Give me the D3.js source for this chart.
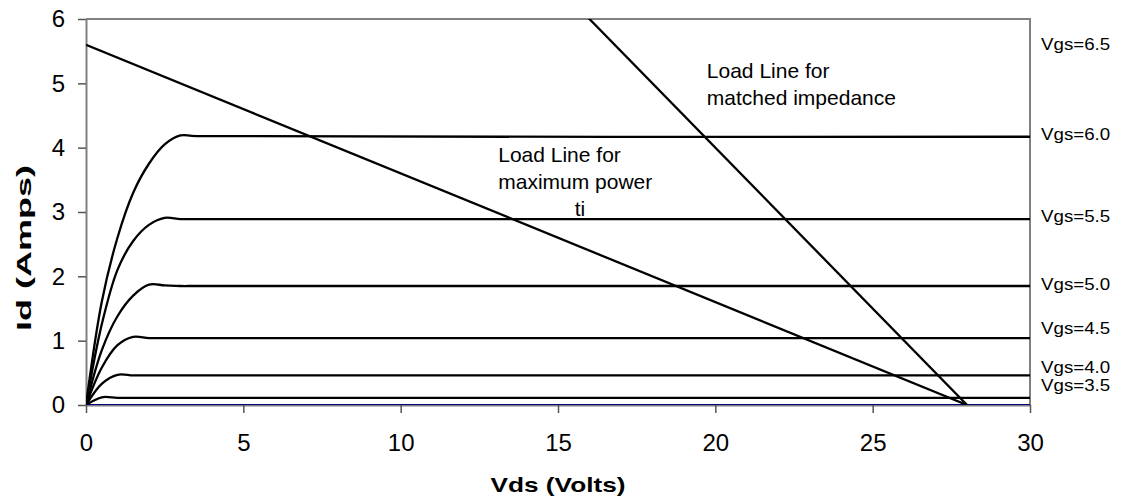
<!DOCTYPE html>
<html><head><meta charset="utf-8">
<script src="https://cdn.jsdelivr.net/npm/d3@7"></script>
<style>
body{margin:0;background:#fff}
svg{display:block;background:#fff}
text{font-family:"Liberation Sans",Arial,sans-serif;fill:#000}
</style>
</head><body>
<svg id="chart" width="1122" height="504"></svg>
<script>
// ---- data ----
const vds = [0, 0.5, 1, 1.5, 2, 2.5, 3, 3.5, 30];
const id30 = [0, 0, 0, 0, 0, 0, 0, 0, 0];
const id35 = [0, 0.12, 0.11, 0.11, 0.11, 0.11, 0.11, 0.11, 0.11];
const id40 = [0, 0.33, 0.47, 0.46, 0.46, 0.46, 0.46, 0.46, 0.46];
const id45 = [0, 0.58, 0.93, 1.06, 1.04, 1.04, 1.04, 1.04, 1.04];
const id50 = [0, 0.85, 1.38, 1.70, 1.87, 1.86, 1.85, 1.85, 1.85];
const id55 = [0, 1.25, 2.10, 2.55, 2.80, 2.91, 2.89, 2.89, 2.89];
const id60 = [0, 1.60, 2.60, 3.30, 3.75, 4.05, 4.19, 4.18, 4.17];

const loadMaxV = [0, 28];
const loadMaxI = [5.6, 0];
const loadMatchV = [0, 28];
const loadMatchI = [14, 0];

const xTicks = [0, 5, 10, 15, 20, 25, 30];
const yTicks = [0, 1, 2, 3, 4, 5, 6];

const vgsLabels = ["Vgs=6.5", "Vgs=6.0", "Vgs=5.5", "Vgs=5.0", "Vgs=4.5", "Vgs=4.0", "Vgs=3.5"];
const vgsLabelAt = [5.61, 4.21, 2.94, 1.88, 1.20, 0.59, 0.31];

const noteMatched = ["Load Line for", "matched impedance"];
const noteMatchedAt = [19.73, 5.08];
const noteMaxPower = ["Load Line for", "maximum power"];
const noteMaxPowerAt = [13.1, 3.78];
const noteTi = "ti";
const noteTiAt = [15.7, 3.0];

// ---- layout ----
const svg = d3.select("#chart");
const L = 86, R = 1030, T = 19, B = 405;
const x = d3.scaleLinear().domain([0, 30]).range([L, R]);
const y = d3.scaleLinear().domain([0, 6]).range([B, T]);
const grey = "#808080";

svg.append("defs").append("clipPath").attr("id", "clip")
  .append("rect").attr("x", L).attr("y", T).attr("width", R - L).attr("height", B - T);

// frame (top/right)
svg.append("path").attr("d", `M${L},${T}H${R}V${B}`).attr("fill", "none")
  .attr("stroke", grey).attr("stroke-width", 2);

// axes
const xAxis = svg.append("g").attr("transform", `translate(0,${B})`)
  .call(d3.axisBottom(x).tickValues(xTicks).tickSize(8).tickSizeOuter(0).tickPadding(21).tickFormat(d3.format("d")));
const yAxis = svg.append("g").attr("transform", `translate(${L},0)`)
  .call(d3.axisLeft(y).tickValues(yTicks).tickSize(8).tickSizeOuter(0).tickPadding(13).tickFormat(d3.format("d")));
[xAxis, yAxis].forEach(a => {
  a.select(".domain").attr("stroke", grey).attr("stroke-width", 2);
  a.selectAll(".tick line").attr("stroke", "#555").attr("stroke-width", 1.5);
  a.selectAll(".tick text").attr("font-size", 24).attr("font-family", "Liberation Sans, Arial, sans-serif").attr("fill", "#000");
});

// series
const series = [id30, id35, id40, id45, id50, id55, id60];
const line = d3.line().x((d, i) => x(vds[i])).y(d => y(d)).curve(d3.curveCatmullRom.alpha(0.5));
const plot = svg.append("g").attr("clip-path", "url(#clip)");
series.forEach((s, k) => {
  plot.append("path").attr("d", line(s)).attr("fill", "none")
    .attr("stroke", k === 0 ? "#000080" : "#000").attr("stroke-width", k === 0 ? 1.8 : 2.3);
});
const straight = d3.line().x(d => x(d[0])).y(d => y(d[1]));
plot.append("path").attr("d", straight(d3.zip(loadMaxV, loadMaxI))).attr("fill", "none").attr("stroke", "#000").attr("stroke-width", 2.3);
plot.append("path").attr("d", straight(d3.zip(loadMatchV, loadMatchI))).attr("fill", "none").attr("stroke", "#000").attr("stroke-width", 2.3);

// Vgs labels
vgsLabels.forEach((t, i) => {
  svg.append("text")
    .attr("transform", `translate(${R + 11},${y(vgsLabelAt[i]) + 5.8}) scale(1.17,1)`)
    .attr("font-size", 16).text(t);
});

// notes
noteMatched.forEach((t, i) => {
  svg.append("text").attr("x", x(noteMatchedAt[0])).attr("y", y(noteMatchedAt[1]) + i * 27)
    .attr("font-size", 21).text(t);
});
noteMaxPower.forEach((t, i) => {
  svg.append("text").attr("x", x(noteMaxPowerAt[0])).attr("y", y(noteMaxPowerAt[1]) + i * 27)
    .attr("font-size", 21).text(t);
});
svg.append("text").attr("x", x(noteTiAt[0])).attr("y", y(noteMaxPowerAt[1]) + 2 * 27)
  .attr("font-size", 21).attr("text-anchor", "middle").text(noteTi);

// axis titles
svg.append("text").attr("transform", `translate(${(L + R) / 2},492) scale(1.28,1)`)
  .attr("text-anchor", "middle").attr("font-size", 20.5).attr("font-weight", "bold").text("Vds (Volts)");
svg.append("text").attr("transform", `translate(31,248) rotate(-90) scale(1.8,1)`)
  .attr("text-anchor", "middle").attr("font-size", 20).attr("font-weight", "bold").text("Id (Amps)");
</script>
</body></html>
